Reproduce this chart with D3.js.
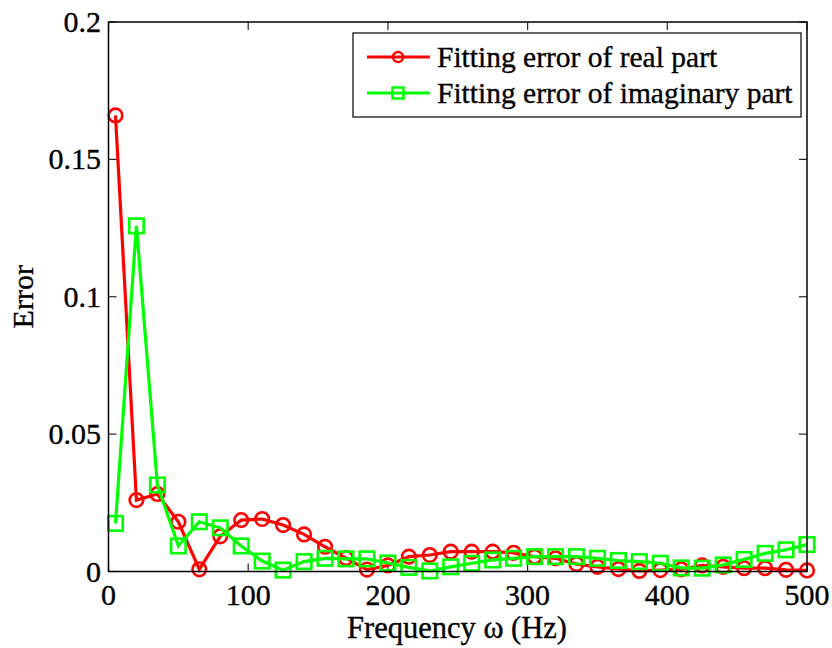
<!DOCTYPE html>
<html>
<head>
<meta charset="utf-8">
<script src="https://cdn.jsdelivr.net/npm/d3@7"></script>
<style>
  html, body { margin: 0; padding: 0; background: #fff; }
  svg { display: block; }
  text { font-family: "Liberation Serif", "Times New Roman", serif; fill: #000; stroke: #000; stroke-width: 0.35px; }
</style>
</head>
<body>
<svg id="chart" width="832" height="648"></svg>
<script>
// ---- data ----
const frequencies = [5, 20, 35, 50, 65, 80, 95, 110, 125, 140, 155, 170, 185, 200, 215, 230, 245,
  260, 275, 290, 305, 320, 335, 350, 365, 380, 395, 410, 425, 440, 455, 470, 485, 500];
const realError = [0.166, 0.026, 0.0282, 0.0181, 0.0008, 0.0128, 0.0187, 0.0191, 0.0169, 0.0135,
  0.0090, 0.0049, 0.0007, 0.0022, 0.0054, 0.0060, 0.0072, 0.0072, 0.0072, 0.0068,
  0.0054, 0.0048, 0.0027, 0.0017, 0.0009, 0.0002, 0.0005, 0.0008, 0.0022, 0.0017,
  0.0012, 0.0012, 0.0006, 0.0004];
const imagError = [0.0175, 0.1258, 0.0315, 0.0093, 0.0181, 0.0159, 0.0093, 0.0038, 0.0005, 0.0036,
  0.0048, 0.0046, 0.0046, 0.0031, 0.0015, 0.0002, 0.0017, 0.0030, 0.0042, 0.0048,
  0.0054, 0.0054, 0.0054, 0.0048, 0.0040, 0.0036, 0.0030, 0.0013, 0.0012, 0.0024,
  0.0044, 0.0066, 0.0079, 0.0098];
const xTicks = [0, 100, 200, 300, 400, 500];
const yTicks = [0, 0.05, 0.1, 0.15, 0.2];
const yTickLabels = ["0", "0.05", "0.1", "0.15", "0.2"];
const seriesNames = ["Fitting error of real part", "Fitting error of imaginary part"];
const xLabel = "Frequency \u03C9 (Hz)";
const yLabel = "Error";

// ---- layout ----
const svg = d3.select("#chart");
const L = 108.5, R = 807, T = 22, B = 571.5;
const x = d3.scaleLinear().domain([0, 500]).range([L, R]);
const y = d3.scaleLinear().domain([0, 0.2]).range([B, T]);
const tickLen = 8;

svg.append("rect").attr("x", L).attr("y", T).attr("width", R - L).attr("height", B - T)
  .attr("fill", "#fff").attr("stroke", "none");

// ticks (inward, all four sides)
const tg = svg.append("g").attr("stroke", "#262626").attr("stroke-width", 1.2);
xTicks.forEach(v => {
  tg.append("line").attr("x1", x(v)).attr("x2", x(v)).attr("y1", B).attr("y2", B - tickLen);
  tg.append("line").attr("x1", x(v)).attr("x2", x(v)).attr("y1", T).attr("y2", T + tickLen);
});
yTicks.forEach(v => {
  tg.append("line").attr("x1", L).attr("x2", L + tickLen).attr("y1", y(v)).attr("y2", y(v));
  tg.append("line").attr("x1", R).attr("x2", R - tickLen).attr("y1", y(v)).attr("y2", y(v));
});

// tick labels
svg.append("g").selectAll("text").data(xTicks).join("text")
  .attr("x", d => x(d)).attr("y", 605).attr("text-anchor", "middle")
  .attr("font-size", 30).text(d => d);
svg.append("g").selectAll("text").data(yTicks).join("text")
  .attr("x", 101).attr("y", d => y(d) + 10).attr("text-anchor", "end")
  .attr("font-size", 30).text((d, i) => yTickLabels[i]);

// axis labels
svg.append("text").attr("x", 457).attr("y", 638).attr("text-anchor", "middle")
  .attr("font-size", 30.5).text(xLabel);
svg.append("text").attr("transform", `translate(33,${(T + B) / 2}) rotate(-90)`)
  .attr("text-anchor", "middle").attr("font-size", 30).text(yLabel);

// series
const data0 = frequencies.map((f, i) => [f, realError[i]]);
const data1 = frequencies.map((f, i) => [f, imagError[i]]);
const line = d3.line().x(d => x(d[0])).y(d => y(d[1]));
const red = "#ff0000", green = "#00ff00";

svg.append("path").datum(data0).attr("d", line).attr("fill", "none")
  .attr("stroke", red).attr("stroke-width", 3.2);
svg.append("g").selectAll("circle").data(data0).join("circle")
  .attr("cx", d => x(d[0])).attr("cy", d => y(d[1])).attr("r", 6.8)
  .attr("fill", "none").attr("stroke", red).attr("stroke-width", 2.6);

svg.append("path").datum(data1).attr("d", line).attr("fill", "none")
  .attr("stroke", green).attr("stroke-width", 3.2);
const sq = 14.5;
svg.append("g").selectAll("rect").data(data1).join("rect")
  .attr("x", d => x(d[0]) - sq / 2).attr("y", d => y(d[1]) - sq / 2)
  .attr("width", sq).attr("height", sq)
  .attr("fill", "none").attr("stroke", green).attr("stroke-width", 2.6);

// axis frame
svg.append("rect").attr("x", L).attr("y", T).attr("width", R - L).attr("height", B - T)
  .attr("fill", "none").attr("stroke", "#000").attr("stroke-width", 1.5);

// legend
const lg = svg.append("g");
lg.append("rect").attr("x", 353).attr("y", 33).attr("width", 448).attr("height", 84)
  .attr("fill", "#fff").attr("stroke", "#000").attr("stroke-width", 1.2);
const rows = [57, 93];
const lsq = 11;
lg.append("line").attr("x1", 367).attr("x2", 430).attr("y1", rows[0]).attr("y2", rows[0])
  .attr("stroke", red).attr("stroke-width", 3);
lg.append("circle").attr("cx", 398).attr("cy", rows[0]).attr("r", 5)
  .attr("fill", "none").attr("stroke", red).attr("stroke-width", 2.5);
lg.append("line").attr("x1", 367).attr("x2", 430).attr("y1", rows[1]).attr("y2", rows[1])
  .attr("stroke", green).attr("stroke-width", 3);
lg.append("rect").attr("x", 398 - lsq / 2).attr("y", rows[1] - lsq / 2).attr("width", lsq).attr("height", lsq)
  .attr("fill", "none").attr("stroke", green).attr("stroke-width", 2.5);
seriesNames.forEach((s, i) => {
  lg.append("text").attr("x", 437).attr("y", rows[i] + 10).attr("font-size", 29.5).text(s);
});
</script>
</body>
</html>
